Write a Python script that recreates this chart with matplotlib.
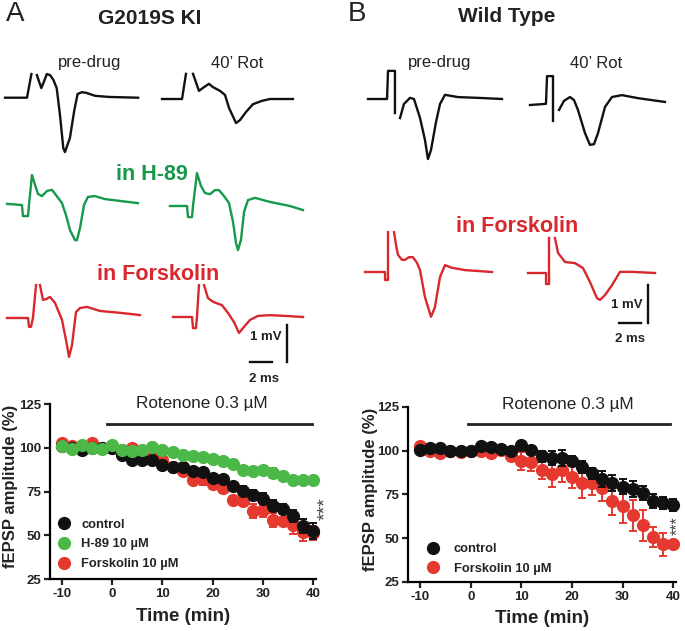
import numpy as np
import matplotlib
matplotlib.use("Agg")
import matplotlib.pyplot as plt
from matplotlib.lines import Line2D

plt.rcParams['font.family'] = ['Liberation Sans', 'DejaVu Sans']
plt.rcParams['axes.unicode_minus'] = False

# ---------------- summary data (fEPSP amplitude %) ----------------
time_min = [-10, -8, -6, -4, -2, 0, 2, 4, 6, 8, 10, 12, 14, 16, 18, 20, 22, 24, 26, 28, 30, 32, 34, 36, 38, 40]

a_control = [101, 100, 99, 100, 100, 100, 96, 93, 93, 93, 90, 89, 89, 87, 86, 82.5, 82, 78, 75.5, 73, 71, 67, 65, 61, 55.5, 52.5]
a_control_err = [1, 1, 1, 1, 1, 1, 1, 1, 1, 1, 1, 1, 1, 1.5, 1.5, 1.5, 1.5, 2, 2.5, 3, 3, 3, 3, 3.5, 4, 4.5]
a_h89 = [101, 99.5, 101.5, 100, 99.5, 101.5, 99, 98, 99, 100.5, 98.5, 97.5, 96, 95.5, 94.5, 93.5, 92.5, 90.5, 87.5, 86.5, 87.5, 85.5, 83.7, 81.5, 81.3, 81.3]
a_h89_err = [1, 1, 1, 1, 1, 1, 1, 1, 1.5, 1, 1, 2.5, 1.5, 1, 1, 1, 1, 1, 1, 1, 1.5, 3, 1, 1.5, 1, 1]
a_forsk = [103, 101, 101, 102.5, 100, 99.7, 99, 100, 97, 96, 93, 89, 87, 81.7, 82, 79.4, 77, 70.2, 69.3, 64, 64.5, 58.8, 58, 56, 52, 51.2]
a_forsk_err = [1, 1, 1, 1, 1, 1, 1, 1, 1, 1, 1, 1, 1.5, 2, 3, 3, 3, 2, 2, 4, 4, 4, 2, 5, 5, 4]

b_control = [100.7, 101.5, 101.5, 100, 100, 100, 102.8, 102, 101, 100, 103.2, 100.5, 96.8, 96, 96, 94, 90.8, 87, 83.8, 81.4, 79.5, 78, 75.7, 71.5, 70, 69]
b_control_err = [1, 1, 1, 1, 1, 1, 1, 1, 1, 1, 1.5, 1.5, 3, 4, 4.5, 3, 3.5, 3, 4.5, 4.5, 4.5, 4.5, 4, 4, 3.5, 3.5]
b_forsk = [102.5, 100, 98.8, 100, 99.5, 100, 100, 98.7, 100.5, 96.9, 94, 93.5, 89, 86.5, 89, 85.2, 81.7, 81.5, 78.5, 71.5, 68.7, 63, 57.3, 50.6, 46.6, 46.5]
b_forsk_err = [1, 1, 1, 1, 1, 1, 1, 1, 1, 1, 5, 5, 5, 7, 6.6, 6.6, 8.5, 7, 7, 8.5, 10, 8.7, 9, 5.7, 6.6, 0]

y_ticks = [25, 50, 75, 100, 125]
x_ticks = [-10, 0, 10, 20, 30, 40]
rotenone_start, rotenone_end = -1, 39.8

# ---------------- example traces (time ms, voltage mV) ----------------
nan = np.nan
trA_pre_t = [0, 2.0, 2.4, nan, 2.9, 3.3, 3.6, 3.8, 4.1, 4.4, 4.7, 5.0, 5.3, 5.45, 5.9, 6.3, 6.6, 7.0, 7.4, 8.2, 9.5, 12.1]
trA_pre_v = [0, 0, 0.64, nan, 0.61, 0.26, 0.48, 0.64, 0.61, 0.48, 0.26, -0.47, -1.36, -1.47, -1.09, -0.34, 0.10, 0.15, 0.13, 0.05, 0.02, 0.0]
trA_rot_t = [0, 1.82, 2.18, nan, 2.82, 3.36, 3.82, 4.27, 4.64, 5.27, 5.73, 6.09, 6.73, 7.09, 7.64, 8.27, 9.09, 9.82, 11.9]
trA_rot_v = [0, 0, 0.68, nan, 0.68, 0.22, 0.32, 0.41, 0.32, 0.22, 0.11, -0.24, -0.65, -0.57, -0.35, -0.14, -0.05, 0, 0]
trA_h89pre_t = [0, 1.36, 1.45, 1.91, 2.0, 2.27, 2.55, 2.82, 3.18, 3.64, 4.09, 4.45, 5.0, 5.36, 5.73, 6.18, 6.36, 6.64, 7.0, 7.36, 8.0, 8.91, 10.27, 11.9]
trA_h89pre_v = [0.03, 0, -0.30, -0.30, 0, 0.81, 0.54, 0.30, 0.24, 0.38, 0.41, 0.27, 0.05, -0.27, -0.68, -0.95, -0.95, -0.62, 0, 0.22, 0.24, 0.16, 0.11, 0.05]
trA_h89rot_t = [0, 1.55, 1.64, 2.0, 2.09, 2.45, 2.82, 3.18, 3.64, 4.09, 4.45, 4.91, 5.36, 5.73, 6.0, 6.18, 6.45, 6.73, 7.09, 7.73, 9.09, 10.91, 12.09]
trA_h89rot_v = [0, 0, -0.30, -0.30, 0, 0.89, 0.54, 0.35, 0.32, 0.43, 0.43, 0.27, 0.08, -0.43, -1.0, -1.19, -0.92, -0.16, 0.16, 0.22, 0.11, 0, -0.11]
trA_fkpre_t = [0, 1.91, 2.0, 2.18, 2.36, 2.64, nan, 3.0, 3.27, 3.55, 3.91, 4.36, 5.0, 5.36, 5.64, 5.91, 6.27, 6.64, 7.27, 8.45, 10.27, 12.09]
trA_fkpre_v = [0, 0, -0.24, -0.24, 0, 0.89, nan, 0.89, 0.49, 0.51, 0.57, 0.41, -0.05, -0.59, -1.05, -0.73, 0.16, 0.27, 0.30, 0.19, 0.14, 0.08]
trA_fkrot_t = [0, 1.73, 1.82, 2.09, 2.18, 2.36, nan, 2.82, 3.18, 3.64, 4.45, 5.0, 5.55, 6.0, 6.45, 7.0, 7.73, 8.82, 10.18, 11.82]
trA_fkrot_v = [0, 0, -0.30, -0.30, 0, 0.86, nan, 0.86, 0.51, 0.41, 0.32, 0.11, -0.14, -0.43, -0.27, -0.08, 0.03, 0.05, 0.03, 0]

trB_pre_t = [0, 1.73, 1.82, 2.45, 2.45, nan, 2.91, 3.27, 3.82, 4.18, 4.73, 5.18, 5.45, 5.73, 6.18, 6.55, 7.0, 8.18, 10.0, 12.18]
trB_pre_v = [0, 0, 0.74, 0.74, -0.37, nan, -0.50, -0.13, 0.03, 0, -0.50, -1.08, -1.58, -1.34, -0.61, -0.13, 0.11, 0.05, 0.03, 0]
trB_rot_t = [0, 1.45, 1.55, 2.09, 2.09, nan, 2.64, 3.09, 3.64, 4.0, 4.36, 5.0, 5.45, 5.82, 6.18, 6.82, 7.45, 8.36, 9.82, 12.27]
trB_rot_v = [0, 0.03, 0.76, 0.76, -0.42, nan, -0.13, 0.11, 0.21, 0.13, -0.13, -0.74, -1.05, -1.03, -0.74, -0.05, 0.21, 0.26, 0.18, 0.08]
trB_fkpre_t = [0, 1.82, 1.82, 2.09, 2.09, nan, 2.64, 2.82, 3.0, 3.36, 3.64, 4.0, 4.36, 4.73, 5.0, 5.45, 6.0, 6.36, 6.82, 7.27, 7.91, 9.09, 11.55]
trB_fkpre_v = [0, 0, -0.21, -0.21, 1.05, nan, 1.05, 0.71, 0.45, 0.32, 0.32, 0.39, 0.39, 0.24, 0.05, -0.66, -1.18, -0.92, -0.13, 0.18, 0.11, 0.05, 0]
trB_fkrot_t = [0, 1.64, 1.64, 1.91, 1.91, nan, 2.45, 2.73, 3.36, 4.27, 5.0, 5.64, 6.27, 6.55, 7.0, 7.64, 8.36, 9.45, 11.55]
trB_fkrot_v = [0, 0, -0.29, -0.29, 0.92, nan, 0.92, 0.53, 0.29, 0.26, 0.13, -0.24, -0.66, -0.71, -0.58, -0.32, 0.03, 0.03, 0]

# ---------------- colours ----------------
C_BLACK = '#111111'
C_GREEN = '#4cb848'
C_RED = '#e5392f'
C_TR_GREEN = '#16994a'
C_TR_RED = '#d8282e'
C_TEXT = '#222222'

W, H = 685, 631
fig = plt.figure(figsize=(W / 100, H / 100), dpi=100)

# ---------------- top: traces in pixel space ----------------
top = fig.add_axes([0, 0, 1, 1])
top.set_xlim(0, W)
top.set_ylim(H, 0)
top.axis('off')


def trace(t, v, x0, y0, color, pxms=11.0, pxmv=37.0):
    t = np.asarray(t, float)
    v = np.asarray(v, float)
    top.plot(x0 + t * pxms, y0 - v * pxmv, color=color, lw=1.7, solid_joinstyle='round')


trace(trA_pre_t, trA_pre_v, 5, 97.7, C_BLACK)
trace(trA_rot_t, trA_rot_v, 162, 99, C_BLACK)
trace(trA_h89pre_t, trA_h89pre_v, 7, 205, C_TR_GREEN)
trace(trA_h89rot_t, trA_h89rot_v, 170, 206, C_TR_GREEN)
trace(trA_fkpre_t, trA_fkpre_v, 7, 318, C_TR_RED)
trace(trA_fkrot_t, trA_fkrot_v, 173, 317, C_TR_RED)
trace(trB_pre_t, trB_pre_v, 368, 99, C_BLACK, pxmv=38)
trace(trB_rot_t, trB_rot_v, 530, 105, C_BLACK, pxmv=38)
trace(trB_fkpre_t, trB_fkpre_v, 365, 272, C_TR_RED, pxmv=38)
trace(trB_fkrot_t, trB_fkrot_v, 528, 273, C_TR_RED, pxmv=38)

# scale bars
top.plot([250, 272], [362, 362], color=C_BLACK, lw=1.7)
top.plot([287, 287], [325, 362], color=C_BLACK, lw=1.7)
top.text(266, 337, '1 mV', ha='center', va='center', fontsize=9.5, fontweight='bold', color=C_TEXT)
top.text(264, 379, '2 ms', ha='center', va='center', fontsize=9.5, fontweight='bold', color=C_TEXT)
top.plot([619, 641], [323, 323], color=C_BLACK, lw=1.7)
top.plot([648, 648], [285, 323], color=C_BLACK, lw=1.7)
top.text(627, 305, '1 mV', ha='center', va='center', fontsize=9.5, fontweight='bold', color=C_TEXT)
top.text(630, 339, '2 ms', ha='center', va='center', fontsize=9.5, fontweight='bold', color=C_TEXT)

# labels
top.text(15, 14, 'A', ha='center', va='center', fontsize=20, color=C_TEXT)
top.text(150, 19, 'G2019S KI', ha='center', va='center', fontsize=15, fontweight='bold', color=C_TEXT)
top.text(357, 14, 'B', ha='center', va='center', fontsize=20, color=C_TEXT)
top.text(507, 16, 'Wild Type', ha='center', va='center', fontsize=15, fontweight='bold', color=C_TEXT)
for x, s in [(90, 'pre-drug'), (237, '40\u2019 Rot'), (440, 'pre-drug'), (596, '40\u2019 Rot')]:
    top.text(x, 63, s, ha='center', va='center', fontsize=12, color=C_TEXT)
top.text(152, 175, 'in H-89', ha='center', va='center', fontsize=15.5, fontweight='bold', color=C_TR_GREEN)
top.text(158, 275, 'in Forskolin', ha='center', va='center', fontsize=15.5, fontweight='bold', color=C_TR_RED)
top.text(517, 227, 'in Forskolin', ha='center', va='center', fontsize=15.5, fontweight='bold', color=C_TR_RED)


# ---------------- bottom: time courses ----------------
def style_axes(ax, label_x, xlabel_y):
    ax.set_xlim(-12.4, 40.5)
    ax.set_ylim(25, 125)
    ax.set_xticks(x_ticks)
    ax.set_yticks(y_ticks)
    for s in ['top', 'right']:
        ax.spines[s].set_visible(False)
    for s in ['left', 'bottom']:
        ax.spines[s].set_linewidth(1.6)
    ax.tick_params(direction='out', length=4.5, width=1.6, labelsize=9.5, pad=2, colors=C_TEXT)
    for lab in ax.get_xticklabels() + ax.get_yticklabels():
        lab.set_fontweight('bold')
    ax.set_ylabel('fEPSP amplitude (%)', fontsize=12, fontweight='bold', color=C_TEXT)
    ax.set_xlabel('Time (min)', fontsize=13.5, fontweight='bold', color=C_TEXT)
    ax.yaxis.set_label_coords(label_x, 0.53)
    ax.xaxis.set_label_coords(0.5, xlabel_y)


def series(ax, y, err, color, z):
    ax.errorbar(time_min, y, yerr=err, fmt='o', color=color, ms=8.5, mec=color,
                ecolor=color, elinewidth=1.4, capsize=3, capthick=1.4,
                zorder=z, clip_on=False)


def legend(ax, entries, anchor, textpad):
    handles = [Line2D([], [], ls='none', marker='o', ms=8.5, color=c, mec=c) for c, _ in entries]
    ax.legend(handles, [s for _, s in entries], loc='lower left',
              bbox_to_anchor=anchor, frameon=False, borderpad=0, borderaxespad=0,
              handlelength=1.0, handletextpad=textpad, labelspacing=0.6,
              prop={'weight': 'bold', 'size': 9.3}, labelcolor=C_TEXT)


axA = fig.add_axes([0.0730, 0.0824, 0.3877, 0.2773])
axA.patch.set_alpha(0)
series(axA, a_forsk, a_forsk_err, C_RED, 3)
series(axA, a_control, a_control_err, C_BLACK, 4)
series(axA, a_h89, a_h89_err, C_GREEN, 5)
style_axes(axA, -0.12, -0.165)
axA.plot([rotenone_start, rotenone_end], [113.6, 113.6], color=C_TEXT, lw=2.0, clip_on=False)
axA.text(17.9, 125.5, 'Rotenone 0.3 \u00b5M', ha='center', va='center', fontsize=12.3, color=C_TEXT)
axA.text(42.5, 65, '***', ha='center', va='center', rotation=90, fontsize=14, color='#444444')
legend(axA, [(C_BLACK, 'control'), (C_GREEN, 'H-89 10 \u00b5M'), (C_RED, 'Forskolin 10 \u00b5M')],
       (0.03, 0.05), 0.8)

axB = fig.add_axes([0.5956, 0.0777, 0.3908, 0.2773])
axB.patch.set_alpha(0)
series(axB, b_forsk, b_forsk_err, C_RED, 3)
series(axB, b_control, b_control_err, C_BLACK, 4)
style_axes(axB, -0.112, -0.16)
axB.plot([-0.5, 39.4], [115.3, 115.3], color=C_TEXT, lw=2.0, clip_on=False)
axB.text(19.2, 126.5, 'Rotenone 0.3 \u00b5M', ha='center', va='center', fontsize=12.3, color=C_TEXT)
axB.text(40.8, 57, '***', ha='center', va='center', rotation=90, fontsize=11.5, color='#444444')
legend(axB, [(C_BLACK, 'control'), (C_RED, 'Forskolin 10 \u00b5M')], (0.07, 0.04), 1.1)

fig.savefig('out.png', dpi=100)
